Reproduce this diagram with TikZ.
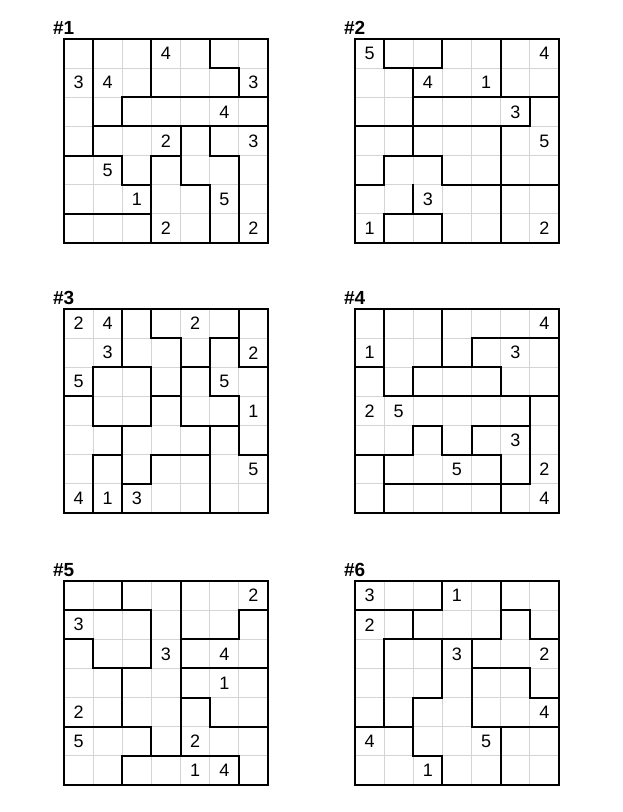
\documentclass[tikz,border=0pt]{standalone}
\usepackage{fontspec}
\setmainfont{Liberation Sans}
\usepackage{tikz}
\definecolor{gridgray}{RGB}{212,212,212}
\tikzset{
  wall/.style={line width=2pt, line cap=rect, black},
  cellline/.style={line width=1pt, gridgray},
  clue/.style={font=\fontsize{18}{18}\selectfont, inner sep=0pt},
  title/.style={font=\bfseries\fontsize{19}{19}\selectfont, inner sep=0pt, anchor=base west},
}
\newcommand{\cellsize}{29.14pt}
% number, left, top, horizontal walls, vertical walls, clues
\newcommand{\puzzle}[6]{%
  \begin{scope}[shift={(#2pt,-#3pt)}, x=\cellsize, y=-\cellsize]
    % thin cell lines
    \foreach \i in {1,...,6} {
      \draw[cellline] (\i,0) -- (\i,7);
      \draw[cellline] (0,\i) -- (7,\i);
    }
    % region walls
    \foreach \y/\a/\b in {#4} \draw[wall] (\a,\y) -- (\b,\y);
    \foreach \x/\a/\b in {#5} \draw[wall] (\x,\a) -- (\x,\b);
    \draw[wall] (0,0) rectangle (7,7);
    % clues
    \foreach \c/\r/\v in {#6} \node[clue] (p#1-\c-\r) at (\c+0.5,\r+0.5) {\v};
    \node[title] (p#1-title) at (-0.38,-0.14) {\##1};
  \end{scope}
}

\begin{document}
\begin{tikzpicture}
  \useasboundingbox (0pt,0pt) rectangle (622pt,-812pt);

  % top row
  \puzzle{1}{64}{39}
    {1/5/6, 2/2/7, 3/1/7, 4/0/2, 4/3/4, 4/5/6, 5/2/3, 5/4/5, 6/0/3}
    {1/0/4, 3/0/2, 5/0/1, 6/1/2, 2/2/3, 2/4/5, 4/3/5, 5/3/4, 5/5/7, 3/4/7, 6/4/7}
    {3/0/4, 0/1/3, 1/1/4, 6/1/3, 5/2/4, 3/3/2, 6/3/3, 1/4/5, 2/5/1, 5/5/5, 3/6/2, 6/6/2}
  \puzzle{2}{355}{39}
    {1/1/3, 2/2/7, 3/0/6, 4/1/3, 5/0/1, 5/3/7, 6/1/3}
    {1/0/1, 1/4/5, 1/6/7, 3/0/1, 3/4/5, 3/6/7, 5/0/2, 5/3/7, 2/1/4, 2/5/6, 6/2/3}
    {0/0/5, 6/0/4, 2/1/4, 4/1/1, 5/2/3, 6/3/5, 2/5/3, 0/6/1, 6/6/2}

  % middle row
  \puzzle{3}{64}{309}
    {1/3/4, 1/5/6, 2/1/3, 2/4/5, 2/6/7, 3/0/1, 3/3/4, 3/5/6, 4/1/3, 4/4/6, 5/1/2, 5/3/5, 5/6/7, 6/2/3}
    {2/0/2, 2/4/7, 3/0/1, 3/2/4, 3/5/6, 6/0/2, 6/3/5, 4/1/4, 5/1/3, 5/4/7, 1/2/4, 1/5/7}
    {0/0/2, 1/0/4, 4/0/2, 1/1/3, 6/1/2, 0/2/5, 5/2/5, 6/3/1, 6/5/5, 0/6/4, 1/6/1, 2/6/3}
  \puzzle{4}{355}{309}
    {1/4/7, 2/0/1, 2/2/5, 3/1/7, 4/2/3, 4/4/6, 5/0/2, 5/3/5, 6/1/6}
    {1/0/3, 1/5/7, 3/0/2, 3/4/5, 4/1/2, 4/4/5, 2/2/3, 2/4/5, 5/2/3, 5/5/7, 6/3/6}
    {6/0/4, 0/1/1, 5/1/3, 0/3/2, 1/3/5, 5/4/3, 3/5/5, 6/5/2, 6/6/4}

  % bottom row
  \puzzle{5}{64}{581}
    {1/0/3, 1/6/7, 2/0/1, 2/4/6, 3/1/3, 3/4/7, 4/4/5, 5/0/3, 5/5/7, 6/2/6}
    {2/0/1, 2/3/5, 2/6/7, 4/0/6, 3/1/3, 3/5/6, 6/1/2, 6/6/7, 1/2/3, 5/4/5}
    {6/0/2, 0/1/3, 3/2/3, 5/2/4, 5/3/1, 0/4/2, 0/5/5, 4/5/2, 4/6/1, 5/6/4}
  \puzzle{6}{355}{581}
    {1/0/3, 1/5/6, 2/1/5, 2/6/7, 3/4/6, 4/2/3, 4/6/7, 5/0/2, 5/4/7, 6/2/3}
    {3/0/1, 3/2/4, 3/6/7, 5/0/2, 5/5/7, 2/1/2, 2/4/6, 6/1/2, 6/3/4, 1/2/5, 4/2/5}
    {0/0/3, 3/0/1, 0/1/2, 3/2/3, 6/2/2, 6/4/4, 0/5/4, 4/5/5, 2/6/1}

\end{tikzpicture}
\end{document}
